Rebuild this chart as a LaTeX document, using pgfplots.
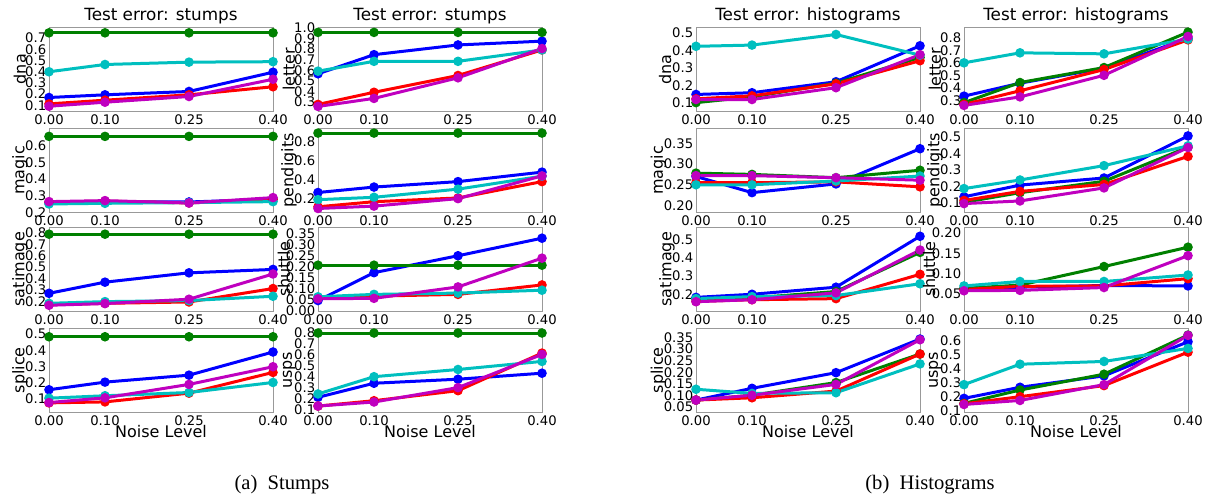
\documentclass[border=0pt]{standalone}
\usepackage{pgfplots}
\pgfplotsset{compat=1.18}
\usepackage{fontspec}
\setmainfont{DejaVu Sans}
\newfontfamily\capfont{Liberation Serif}
\definecolor{mb}{rgb}{0,0,1}
\definecolor{mg}{rgb}{0,0.5,0}
\definecolor{mr}{rgb}{1,0,0}
\definecolor{mc}{rgb}{0,0.75,0.75}
\definecolor{mm}{rgb}{0.75,0,0.75}
\newcommand\ser[5]{\addplot[#1] coordinates {(0,#2) (0.1,#3) (0.25,#4) (0.4,#5)};}
\newcommand\lfont{\fontsize{8}{9}\selectfont}
\newcommand\tfont{\fontsize{8.4}{9}\selectfont}
\pgfplotsset{
  panel/.style={
    scale only axis, width=112pt, height=42.25pt, anchor=north west,
    xmin=0, xmax=0.4, xtick={0,0.1,0.25,0.4},
    xticklabels={0.00,0.10,0.25,0.40},
    axis line style={black!40}, major tick length=0pt,
    tick label style={font=\fontsize{6.6}{7}\selectfont, inner sep=1.2pt},
    /pgf/number format/assume math mode=true,
    yticklabel style={/pgf/number format/.cd, fixed, fixed zerofill, precision=1},
    every axis title/.style={at={(axis description cs:0.5,1.072)}, anchor=base, font=\tfont},
    every axis y label/.style={at={(axis description cs:-0.1295,0.5)}, rotate=90, anchor=center, font=\lfont},
    every axis x label/.style={at={(axis description cs:0.5,-0.30)}, anchor=base, font=\lfont},
    every axis plot/.append style={line width=1.5pt, mark=*, mark size=1.6pt, mark options={solid}},
  },
  p2/.style={yticklabel style={/pgf/number format/precision=2}},
  yl/.style={every axis y label/.style={at={(axis description cs:#1,0.5)}, rotate=90, anchor=center, font=\lfont}},
}
\begin{document}
\begin{tikzpicture}
\path[use as bounding box] (0,0) rectangle (603pt,-249.5pt);
% ---------- Stumps ----------
\begin{axis}[panel, at={(24.5pt,-13.5pt)}, ymin=0.045, ymax=0.8, ytick={0.1,0.2,0.3,0.4,0.5,0.6,0.7}, ylabel={dna}, title={Test error: stumps}]
\ser{mb}{0.17}{0.194}{0.224}{0.396}
\ser{mg}{0.748}{0.748}{0.748}{0.748}
\ser{mr}{0.113}{0.146}{0.194}{0.266}
\ser{mc}{0.40}{0.465}{0.486}{0.49}
\ser{mm}{0.092}{0.128}{0.179}{0.333}
\end{axis}
\begin{axis}[panel, at={(159pt,-13.5pt)}, ymin=0.21, ymax=1.01, ytick={0.3,0.4,0.5,0.6,0.7,0.8,0.9,1.0}, ylabel={letter}, title={Test error: stumps}]
\ser{mb}{0.567}{0.748}{0.84}{0.876}
\ser{mg}{0.959}{0.959}{0.959}{0.959}
\ser{mr}{0.277}{0.392}{0.551}{0.793}
\ser{mc}{0.592}{0.685}{0.685}{0.793}
\ser{mm}{0.258}{0.334}{0.529}{0.806}
\end{axis}
\begin{axis}[panel, at={(24.5pt,-64pt)}, ymin=0.2, ymax=0.705, ytick={0.2,0.3,0.4,0.5,0.6}, ylabel={magic}]
\ser{mb}{0.259}{0.265}{0.263}{0.279}
\ser{mg}{0.655}{0.655}{0.655}{0.655}
\ser{mr}{0.262}{0.268}{0.257}{0.28}
\ser{mc}{0.251}{0.255}{0.259}{0.265}
\ser{mm}{0.265}{0.271}{0.257}{0.289}
\end{axis}
\begin{axis}[panel, at={(159pt,-64pt)}, ymin=0.048, ymax=0.948, ytick={0.2,0.4,0.6,0.8}, ylabel={pendigits}]
\ser{mb}{0.261}{0.319}{0.377}{0.478}
\ser{mg}{0.894}{0.894}{0.894}{0.894}
\ser{mr}{0.109}{0.163}{0.203}{0.377}
\ser{mc}{0.185}{0.21}{0.297}{0.435}
\ser{mm}{0.091}{0.116}{0.196}{0.438}
\end{axis}
\begin{axis}[panel, at={(24.5pt,-113.5pt)}, ymin=0.11, ymax=0.853, ytick={0.2,0.3,0.4,0.5,0.6,0.7,0.8}, ylabel={satimage}]
\ser{mb}{0.27}{0.368}{0.45}{0.48}
\ser{mg}{0.79}{0.79}{0.79}{0.79}
\ser{mr}{0.17}{0.182}{0.194}{0.312}
\ser{mc}{0.182}{0.197}{0.206}{0.244}
\ser{mm}{0.165}{0.18}{0.218}{0.44}
\end{axis}
\begin{axis}[panel, p2, yl=-0.152, at={(159pt,-113.5pt)}, ymin=-0.004, ymax=0.381, ytick={0,0.05,0.1,0.15,0.2,0.25,0.3,0.35}, ylabel={shuttle}]
\ser{mb}{0.046}{0.173}{0.25}{0.33}
\ser{mg}{0.207}{0.207}{0.207}{0.207}
\ser{mr}{0.057}{0.066}{0.074}{0.117}
\ser{mc}{0.063}{0.074}{0.08}{0.093}
\ser{mm}{0.054}{0.056}{0.108}{0.239}
\end{axis}
\begin{axis}[panel, at={(24.5pt,-164pt)}, ymin=0.0155, ymax=0.537, ytick={0.1,0.2,0.3,0.4,0.5}, ylabel={splice}, xlabel={Noise Level}]
\ser{mb}{0.156}{0.203}{0.246}{0.389}
\ser{mg}{0.483}{0.483}{0.483}{0.483}
\ser{mr}{0.075}{0.081}{0.135}{0.263}
\ser{mc}{0.104}{0.119}{0.139}{0.201}
\ser{mm}{0.077}{0.106}{0.189}{0.298}
\end{axis}
\begin{axis}[panel, at={(159pt,-164pt)}, ymin=0.072, ymax=0.846, ytick={0.1,0.2,0.3,0.4,0.5,0.6,0.7,0.8}, ylabel={usps}, xlabel={Noise Level}]
\ser{mb}{0.211}{0.34}{0.377}{0.432}
\ser{mg}{0.8}{0.8}{0.8}{0.8}
\ser{mr}{0.131}{0.18}{0.272}{0.616}
\ser{mc}{0.242}{0.40}{0.466}{0.54}
\ser{mm}{0.131}{0.168}{0.30}{0.604}
\end{axis}
% ---------- Histograms ----------
\begin{axis}[panel, yl=-0.138, at={(348pt,-13.5pt)}, ymin=0.049, ymax=0.535, ytick={0.1,0.2,0.3,0.4,0.5}, ylabel={dna}, title={Test error: histograms}]
\ser{mb}{0.147}{0.157}{0.22}{0.427}
\ser{mg}{0.10}{0.133}{0.212}{0.36}
\ser{mr}{0.122}{0.139}{0.208}{0.341}
\ser{mc}{0.424}{0.431}{0.492}{0.373}
\ser{mm}{0.118}{0.118}{0.186}{0.376}
\end{axis}
\begin{axis}[panel, at={(482pt,-13.5pt)}, ymin=0.21, ymax=0.887, ytick={0.3,0.4,0.5,0.6,0.7,0.8}, ylabel={letter}, title={Test error: histograms}]
\ser{mb}{0.333}{0.437}{0.557}{0.797}
\ser{mg}{0.281}{0.442}{0.562}{0.846}
\ser{mr}{0.267}{0.376}{0.546}{0.784}
\ser{mc}{0.60}{0.68}{0.672}{0.79}
\ser{mm}{0.259}{0.327}{0.50}{0.811}
\end{axis}
\begin{axis}[panel, p2, yl=-0.168, at={(348pt,-64pt)}, ymin=0.183, ymax=0.387, ytick={0.2,0.25,0.3,0.35}, ylabel={magic}]
\ser{mb}{0.27}{0.231}{0.252}{0.337}
\ser{mg}{0.278}{0.275}{0.267}{0.285}
\ser{mr}{0.255}{0.255}{0.257}{0.245}
\ser{mc}{0.25}{0.25}{0.259}{0.271}
\ser{mm}{0.272}{0.272}{0.267}{0.261}
\end{axis}
\begin{axis}[panel, at={(482pt,-64pt)}, ymin=0.042, ymax=0.554, ytick={0.1,0.2,0.3,0.4,0.5}, ylabel={pendigits}]
\ser{mb}{0.137}{0.208}{0.251}{0.506}
\ser{mg}{0.104}{0.162}{0.231}{0.438}
\ser{mr}{0.115}{0.17}{0.212}{0.382}
\ser{mc}{0.187}{0.239}{0.326}{0.446}
\ser{mm}{0.096}{0.112}{0.191}{0.436}
\end{axis}
\begin{axis}[panel, at={(348pt,-113.5pt)}, ymin=0.105, ymax=0.571, ytick={0.2,0.3,0.4,0.5}, ylabel={satimage}]
\ser{mb}{0.183}{0.20}{0.239}{0.52}
\ser{mg}{0.174}{0.18}{0.215}{0.431}
\ser{mr}{0.161}{0.17}{0.176}{0.31}
\ser{mc}{0.176}{0.187}{0.193}{0.258}
\ser{mm}{0.159}{0.17}{0.208}{0.444}
\end{axis}
\begin{axis}[panel, p2, yl=-0.156, at={(482pt,-113.5pt)}, ymin=0.0056, ymax=0.215, ytick={0.05,0.1,0.15,0.2}, ylabel={shuttle}]
\ser{mb}{0.062}{0.066}{0.07}{0.069}
\ser{mg}{0.063}{0.071}{0.117}{0.165}
\ser{mr}{0.06}{0.068}{0.069}{0.087}
\ser{mc}{0.069}{0.08}{0.08}{0.096}
\ser{mm}{0.057}{0.058}{0.065}{0.144}
\end{axis}
\begin{axis}[panel, p2, yl=-0.168, at={(348pt,-164pt)}, ymin=0.025, ymax=0.392, ytick={0.05,0.1,0.15,0.2,0.25,0.3,0.35}, ylabel={splice}, xlabel={Noise Level}]
\ser{mb}{0.079}{0.13}{0.198}{0.344}
\ser{mg}{0.079}{0.10}{0.155}{0.279}
\ser{mr}{0.079}{0.089}{0.118}{0.279}
\ser{mc}{0.126}{0.108}{0.111}{0.236}
\ser{mm}{0.079}{0.10}{0.147}{0.341}
\end{axis}
\begin{axis}[panel, at={(482pt,-164pt)}, ymin=0.085, ymax=0.694, ytick={0.1,0.2,0.3,0.4,0.5,0.6}, ylabel={usps}, xlabel={Noise Level}]
\ser{mb}{0.187}{0.267}{0.349}{0.595}
\ser{mg}{0.151}{0.247}{0.361}{0.643}
\ser{mr}{0.148}{0.199}{0.279}{0.52}
\ser{mc}{0.286}{0.433}{0.453}{0.547}
\ser{mm}{0.143}{0.172}{0.286}{0.641}
\end{axis}
\node[anchor=base, font=\capfont\fontsize{10.3}{12}\selectfont] at (141pt,-244.5pt) {(a)\ \ Stumps};
\node[anchor=base, font=\capfont\fontsize{10.3}{12}\selectfont] at (465pt,-244.5pt) {(b)\ \ Histograms};
\end{tikzpicture}
\end{document}
